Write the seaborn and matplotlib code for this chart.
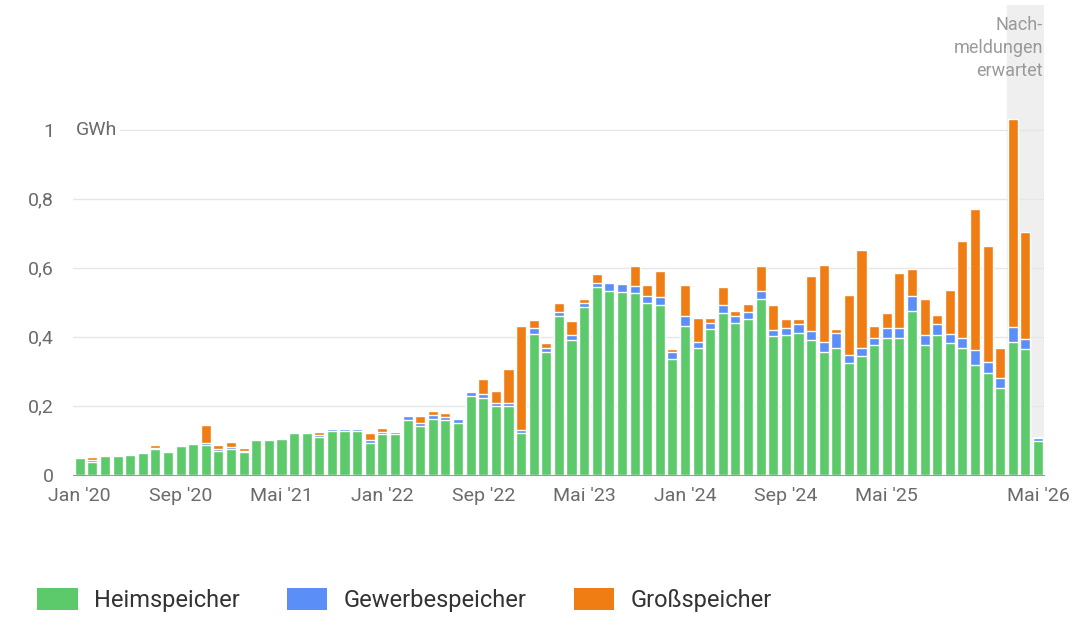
import numpy as np
import pandas as pd
import seaborn as sns
import matplotlib.pyplot as plt
from matplotlib.patches import Patch

# monthly values in GWh, Jan 2020 - May 2026
months = pd.date_range('2020-01-01', '2026-05-01', freq='MS')
heim = [0.048, 0.038, 0.053, 0.055, 0.057, 0.062, 0.075, 0.066, 0.083, 0.088, 0.086, 0.069,
        0.075, 0.067, 0.100, 0.100, 0.104, 0.120, 0.120, 0.110, 0.128, 0.128, 0.128, 0.093,
        0.118, 0.118, 0.160, 0.140, 0.163, 0.158, 0.150, 0.227, 0.222, 0.198, 0.198, 0.121,
        0.409, 0.357, 0.461, 0.391, 0.486, 0.543, 0.534, 0.531, 0.526, 0.497, 0.493, 0.335,
        0.432, 0.369, 0.423, 0.468, 0.440, 0.451, 0.509, 0.401, 0.406, 0.412, 0.391, 0.357,
        0.367, 0.324, 0.345, 0.377, 0.398, 0.396, 0.475, 0.377, 0.404, 0.382, 0.367, 0.319,
        0.295, 0.251, 0.384, 0.364, 0.097]
gewerbe = [0.004, 0.004, 0.002, 0.002, 0.002, 0.002, 0.004, 0.002, 0.002, 0.004, 0.005, 0.005,
           0.005, 0.003, 0.004, 0.003, 0.003, 0.005, 0.005, 0.005, 0.004, 0.005, 0.005, 0.008,
           0.005, 0.006, 0.010, 0.010, 0.010, 0.010, 0.013, 0.014, 0.012, 0.010, 0.010, 0.009,
           0.016, 0.012, 0.012, 0.013, 0.011, 0.012, 0.021, 0.022, 0.020, 0.022, 0.021, 0.020,
           0.027, 0.015, 0.018, 0.025, 0.019, 0.021, 0.024, 0.019, 0.019, 0.025, 0.027, 0.029,
           0.045, 0.024, 0.022, 0.021, 0.027, 0.029, 0.044, 0.029, 0.033, 0.026, 0.031, 0.043,
           0.033, 0.031, 0.043, 0.029, 0.009]
gross = [0.001, 0.009, 0.000, 0.000, 0.000, 0.000, 0.006, 0.000, 0.000, 0.000, 0.052, 0.012,
         0.014, 0.008, 0.000, 0.000, 0.000, 0.000, 0.000, 0.009, 0.000, 0.002, 0.002, 0.021,
         0.013, 0.000, 0.000, 0.020, 0.011, 0.010, 0.000, 0.000, 0.043, 0.035, 0.099, 0.302,
         0.024, 0.013, 0.024, 0.043, 0.012, 0.026, 0.000, 0.000, 0.058, 0.032, 0.077, 0.011,
         0.090, 0.070, 0.013, 0.052, 0.017, 0.024, 0.071, 0.073, 0.026, 0.014, 0.157, 0.221,
         0.010, 0.174, 0.285, 0.034, 0.044, 0.160, 0.079, 0.104, 0.025, 0.128, 0.280, 0.408,
         0.336, 0.087, 0.605, 0.312, 0.003]
tick_idx = [0, 8, 16, 24, 32, 40, 48, 56, 64, 76]
tick_labels = ["Jan '20", "Sep '20", "Mai '21", "Jan '22", "Sep '22", "Mai '23",
               "Jan '24", "Sep '24", "Mai '25", "Mai '26"]

green, blue, orange = '#5cc96b', '#5b8ef7', '#f07d14'
grey = '#6b6b6b'

df = pd.DataFrame({'month': range(len(months)), 'heim': heim,
                   'gewerbe': gewerbe, 'gross': gross})
df['mid'] = df['heim'] + df['gewerbe']
df['total'] = df['mid'] + df['gross']

sns.set_style('white')
plt.rcParams['font.family'] = ['Roboto', 'DejaVu Sans']

fig = plt.figure(figsize=[10.8, 6.28], dpi=100)
ax = fig.add_axes([0.068, 0.244, 0.899, 0.748])

ax.axvspan(73.5, 76.5, color='#efefef', zorder=0)
for y in [0.2, 0.4, 0.6, 0.8, 1.0]:
    ax.axhline(y, color='#e6e6e6', lw=1, zorder=0.5)

sns.barplot(x='month', y='total', data=df, color=orange, saturation=1, width=0.8, ax=ax, zorder=2)
sns.barplot(x='month', y='mid', data=df, color=blue, saturation=1, width=0.8, ax=ax, zorder=3)
sns.barplot(x='month', y='heim', data=df, color=green, saturation=1, width=0.8, ax=ax, zorder=4)

ax.set_xlim(-0.5, 76.5)
ax.set_ylim(0, 1.362)
ax.set_xticks(tick_idx)
ax.set_xticklabels(tick_labels, fontsize=14, color=grey)
ax.set_yticks([0, 0.2, 0.4, 0.6, 0.8, 1.0])
ax.set_yticklabels(['0', '0,2', '0,4', '0,6', '0,8', '1'], fontsize=14, color=grey)
ax.tick_params(axis='x', length=5, color='#999999', pad=4)
ax.tick_params(axis='y', length=0, pad=14)
ax.set_xlabel('')
ax.set_ylabel('')
sns.despine(ax=ax, left=True)
ax.spines['bottom'].set_color('#999999')
ax.text(-0.3, 1.0, 'GWh', fontsize=14, color=grey, va='center', ha='left',
        bbox=dict(facecolor='white', edgecolor='none', pad=2), zorder=5)
ax.text(76.4, 1.33, 'Nach-\nmeldungen\nerwartet', fontsize=13, color='#9a9a9a',
        ha='right', va='top', linespacing=1.35)

handles = [Patch(facecolor=c, edgecolor='none') for c in [green, blue, orange]]
fig.legend(handles, ['Heimspeicher', 'Gewerbespeicher', 'Großspeicher'], loc='center left',
           bbox_to_anchor=(0.015, 0.045), ncol=3, frameon=False, fontsize=17,
           handlelength=1.7, handleheight=1.1, handletextpad=0.7, columnspacing=2.0,
           labelcolor='#333333')

fig.savefig('out.png', dpi=100)
